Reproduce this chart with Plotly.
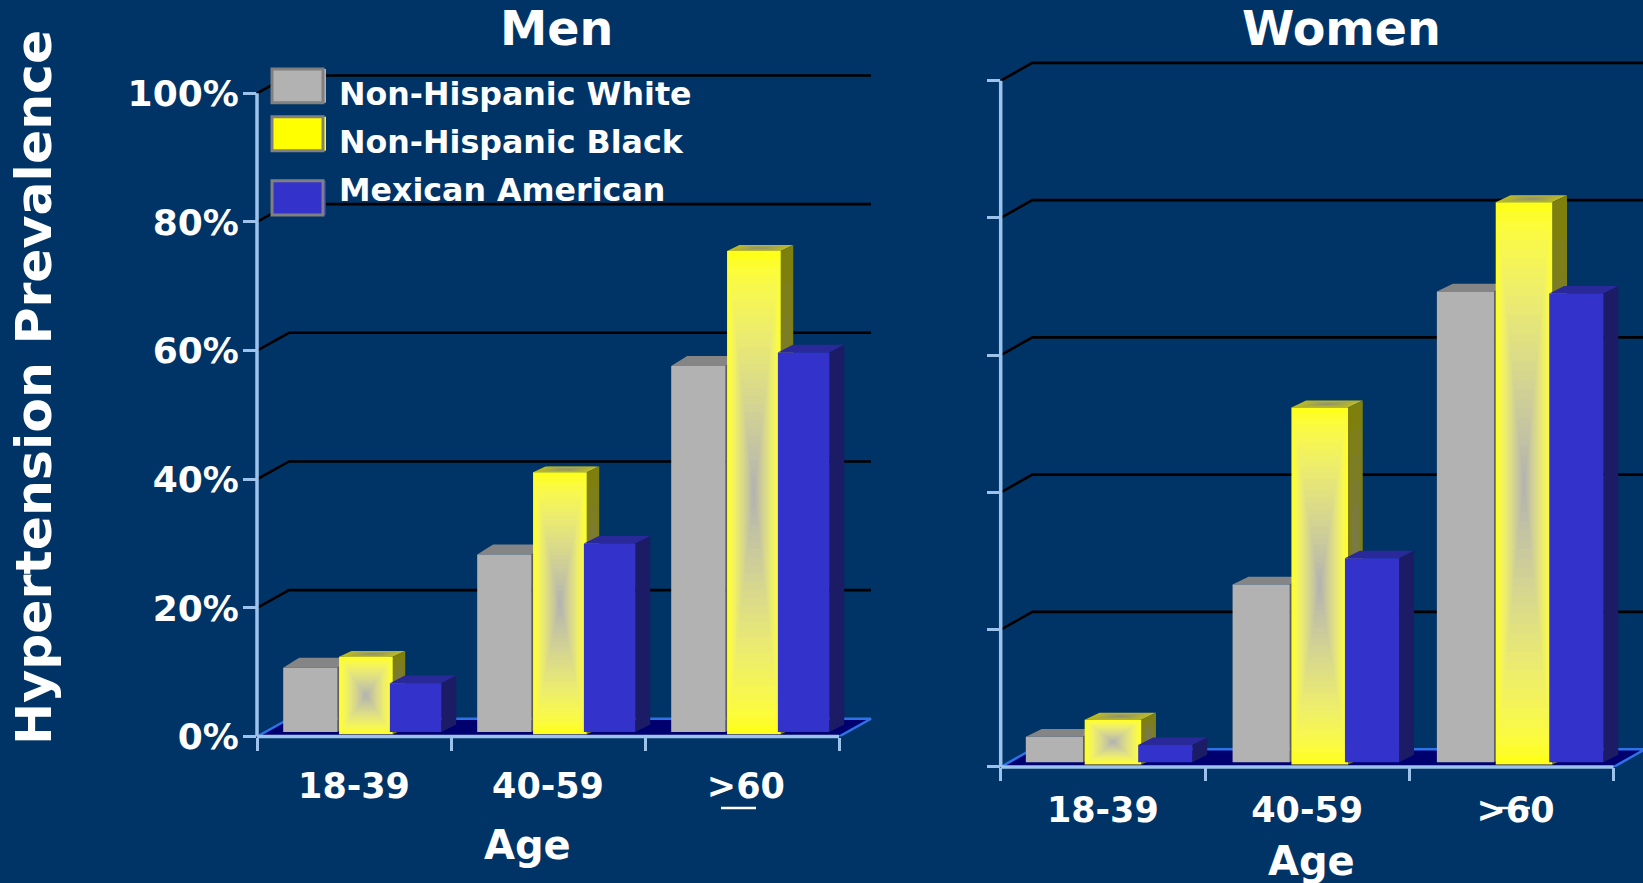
import plotly.graph_objects as go

W, H = 1643, 883
BG = "#003366"

# Hypertension prevalence (%) by age group
TICK_LABELS = ["18-39", "40-59", ">60"]
RACE_GROUPS = ["Non-Hispanic White", "Non-Hispanic Black", "Mexican American"]
Y_TICKS = [0, 20, 40, 60, 80, 100]
Y_LABELS = ["0%", "20%", "40%", "60%", "80%", "100%"]

men_white = [10.7, 28.3, 57.6]
men_black = [12.4, 41.1, 75.5]
men_mexican = [8.3, 30.0, 59.7]

women_white = [4.4, 26.6, 69.3]
women_black = [6.9, 52.4, 82.3]
women_mexican = [3.2, 30.4, 69.0]

FONT = "DejaVu Sans"
AXIS_COL = "#9DC3EC"
FLOOR_COL = "#00006E"
FLOOR_EDGE = "#2E72E8"
Y_TOP = 104

# Per-panel geometry: front plot box in pixels, depth of the back wall and of each bar in axis units
PANELS = [
    dict(name="Men", xa="x", ya="y", box=(257, 839, 93.3, 736.6), depth=(0.165, 2.77),
         bar_depth=[(0.082, 1.55), (0.064, 0.9), (0.077, 1.2)], standoff=25, shift=(0, 0, 0),
         series=(men_white, men_black, men_mexican)),
    dict(name="Women", xa="x2", ya="y2", box=(1000.7, 1613.6, 80.7, 767), depth=(0.155, 2.6),
         bar_depth=[(0.078, 1.12), (0.072, 1.0), (0.073, 1.1)], standoff=19, shift=(-0.012, 0, 0),
         series=(women_white, women_black, women_mexican)),
]

# Horizontal slots of the three bars inside one category, and base heights
SLOTS = [(0.135, 0.415), (0.423, 0.70), (0.685, 0.95)]
BASES = [0.7, 0.35, 0.7]
STYLES = [
    dict(front="#B2B2B2", side="#5E5E5E", top="#858585"),
    dict(front="#FFFF00", side="#808008", top="#BDBD1E"),
    dict(front="#3333CC", side="#1C1C66", top="#29299A"),
]
FRONT_STEPS = 30
FACE_STEPS = 7


def mix(a, b, t):
    ca = [int(a[i:i + 2], 16) for i in (1, 3, 5)]
    cb = [int(b[i:i + 2], 16) for i in (1, 3, 5)]
    return "#" + "".join(f"{round(p + (q - p) * t):02X}" for p, q in zip(ca, cb))


def front_shade(t):
    # Yellow washes out quickly in blue while red and green only sink near the centre
    level = round(255 - (255 - 178) * t ** 1.3)
    blue = round(178 * t ** 0.45)
    return f"#{level:02X}{level:02X}{blue:02X}"


def polygon(fig, xs, ys, color, xa, ya):
    fig.add_trace(go.Scatter(x=xs, y=ys, mode="lines", fill="toself", fillcolor=color,
                             line=dict(width=0, color=color), hoverinfo="skip",
                             showlegend=False, xaxis=xa, yaxis=ya))


def line(fig, xs, ys, color, width, xa, ya):
    fig.add_trace(go.Scatter(x=xs, y=ys, mode="lines", line=dict(color=color, width=width),
                             hoverinfo="skip", showlegend=False, xaxis=xa, yaxis=ya))


def nested(fig, corners, shade, steps, xa, ya):
    """Path gradient: copies of a quadrilateral shrinking towards its centre."""
    cx = sum(c[0] for c in corners) / 4
    cy = sum(c[1] for c in corners) / 4
    closed = corners + corners[:1]
    for k in range(steps):
        t = k / steps
        xs = [cx + (c[0] - cx) * (1 - t) for c in closed]
        ys = [cy + (c[1] - cy) * (1 - t) for c in closed]
        polygon(fig, xs, ys, shade((k + 0.5) / steps), xa, ya)


fig = go.Figure()

for p in PANELS:
    xa, ya = p["xa"], p["ya"]
    dx, dy = p["depth"]
    n = len(TICK_LABELS)

    # Floor and back-wall grid
    polygon(fig, [0, dx, n + dx, n, 0], [0, dy, dy, 0, 0], FLOOR_COL, xa, ya)
    line(fig, [dx, n + dx, n], [dy, dy, 0], FLOOR_EDGE, 2.5, xa, ya)
    line(fig, [0, dx], [0, dy], FLOOR_EDGE, 2.5, xa, ya)
    for t in Y_TICKS[1:]:
        line(fig, [0, dx, n + dx], [t, t + dy, t + dy], "#000000", 2.6, xa, ya)

    # Extruded bars, painted left to right so each one overlaps its neighbour's side
    for c in range(n):
        for s, values in enumerate(p["series"]):
            v = values[c]
            x0, x1 = c + SLOTS[s][0] + p["shift"][c], c + SLOTS[s][1] + p["shift"][c]
            base = BASES[s]
            bx, by = p["bar_depth"][s]
            st = STYLES[s]
            top = [(x0, v), (x1, v), (x1 + bx, v + by), (x0 + bx, v + by)]
            side = [(x1, base), (x1 + bx, base + by), (x1 + bx, v + by), (x1, v)]
            front = [(x0, base), (x1, base), (x1, v), (x0, v)]
            if s == 1:
                # The yellow bar carries a rectangular gradient fading to grey at its centre
                nested(fig, top, lambda t: mix(st["top"], "#8F8F78", t), FACE_STEPS, xa, ya)
                nested(fig, side, lambda t: mix(st["side"], "#78785A", t), FACE_STEPS, xa, ya)
                nested(fig, front, front_shade, FRONT_STEPS, xa, ya)
            else:
                polygon(fig, *zip(*(top + top[:1])), st["top"], xa, ya)
                polygon(fig, *zip(*(side + side[:1])), st["side"], xa, ya)
                polygon(fig, *zip(*(front + front[:1])), st["front"], xa, ya)


def axis_x(p):
    left, right, _, _ = p["box"]
    step = (right - left) / 3
    x_top = min(3 + p["depth"][0] + p["bar_depth"][0][0], (W - left) / step)
    return dict(domain=[left / W, (left + step * x_top) / W], range=[0, x_top],
                showgrid=False, zeroline=False, showline=False, automargin=False,
                ticks="", tickvals=[0.5, 1.5, 2.52], ticktext=TICK_LABELS, ticklen=0,
                ticklabelstandoff=p["standoff"],
                tickfont=dict(family=FONT, size=35, color="white", weight="bold"),
                minor=dict(tickvals=[0, 1, 2, 3], ticks="outside", ticklen=13, tickwidth=2.5, tickcolor=AXIS_COL),
                fixedrange=True, anchor=p["ya"])


def axis_y(p, show_labels):
    _, _, top, bottom = p["box"]
    scale = (bottom - top) / 100
    return dict(domain=[1 - bottom / H, 1 - (bottom - Y_TOP * scale) / H], range=[0, Y_TOP],
                showgrid=False, zeroline=False, showline=False, automargin=False,
                tickvals=Y_TICKS, ticktext=Y_LABELS, ticklabelstandoff=-3,
                showticklabels=show_labels, ticks="outside", ticklen=13, tickwidth=2.5, tickcolor=AXIS_COL,
                tickfont=dict(family=FONT, size=36, color="white", weight="bold"),
                fixedrange=True, anchor=p["xa"])


annotations = []


def label(text, x, y, size, rot=0, anchor="center"):
    annotations.append(dict(text=f"<b>{text}</b>", x=x / W, y=1 - y / H, xref="paper", yref="paper",
                            showarrow=False, font=dict(family=FONT, size=size, color="white"),
                            textangle=rot, xanchor=anchor, yanchor="middle", align="left"))


label("Men", 556, 28, 47.5)
label("Women", 1341, 28, 47.5)
label("Age", 527, 845, 40)
label("Age", 1311, 861, 40)
label("Hypertension Prevalence", 33, 388, 50.5, rot=-90)
label(RACE_GROUPS[0], 337, 94, 31.7, anchor="left")
label(RACE_GROUPS[1], 337, 142, 31.7, anchor="left")
label(RACE_GROUPS[2], 337, 190, 31.7, anchor="left")

shapes = []

# Axis lines stop at the front plot box, the ranges run further to hold the back wall
for p in PANELS:
    left, right, top, bottom = p["box"]
    shapes.append(dict(type="line", xref="paper", yref="paper", x0=left / W, x1=left / W,
                       y0=1 - bottom / H, y1=1 - top / H, line=dict(width=3.5, color=AXIS_COL)))
    shapes.append(dict(type="line", xref="paper", yref="paper", x0=left / W, x1=right / W,
                       y0=1 - bottom / H, y1=1 - bottom / H, line=dict(width=3.5, color=AXIS_COL)))

SWATCHES = [(69, 102.7), (116.7, 150.7), (180.7, 215)]
for (top, bottom), st in zip(SWATCHES, STYLES):
    shapes.append(dict(type="rect", xref="paper", yref="paper", x0=322 / W, x1=326 / W,
                       y0=1 - bottom / H, y1=1 - top / H, line=dict(width=0), fillcolor=st["front"]))
    shapes.append(dict(type="rect", xref="paper", yref="paper", x0=272 / W, x1=323 / W,
                       y0=1 - bottom / H, y1=1 - top / H, line=dict(width=3, color="#808080"),
                       fillcolor=st["front"]))

# Bars under the ">" glyph that turn it into an at-least sign
for x0, x1 in [(721, 756), (1498, 1530)]:
    shapes.append(dict(type="line", xref="paper", yref="paper", x0=x0 / W, x1=x1 / W,
                       y0=1 - 808 / H, y1=1 - 808 / H, line=dict(width=2.5, color="white")))

fig.update_layout(width=W, height=H, margin=dict(l=0, r=0, t=0, b=0), autosize=False,
                  paper_bgcolor=BG, plot_bgcolor=BG, showlegend=False,
                  xaxis=axis_x(PANELS[0]), yaxis=axis_y(PANELS[0], True),
                  xaxis2=axis_x(PANELS[1]), yaxis2=axis_y(PANELS[1], False),
                  annotations=annotations, shapes=shapes)
fig.write_html("out.html", config=dict(displayModeBar=False))
